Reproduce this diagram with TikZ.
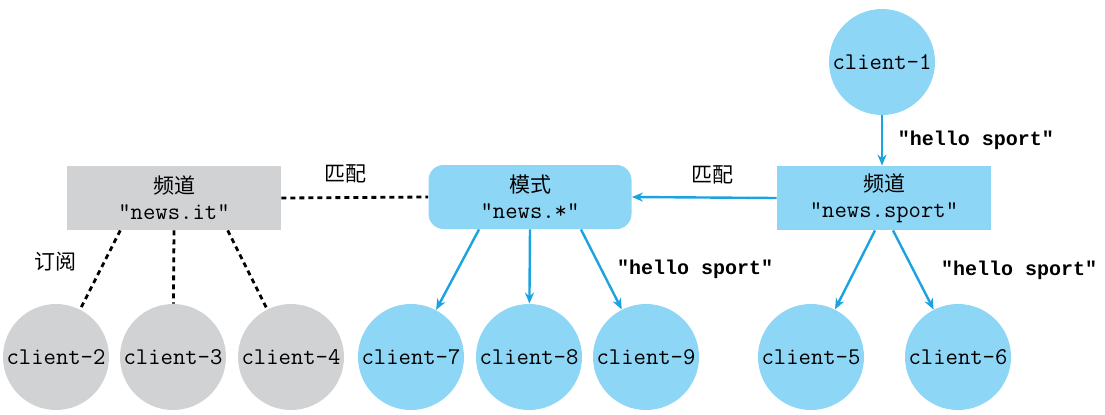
\documentclass[tikz,border=0pt]{standalone}
\usepackage{fontspec}
\newfontfamily\msgmono{Liberation Mono}
\newfontfamily\cjk{Noto Sans CJK SC}
\usetikzlibrary{arrows.meta,positioning,calc}
\definecolor{chanblue}{HTML}{8ED6F6}
\definecolor{msgblue}{HTML}{1BA3E0}
\definecolor{idlegrey}{HTML}{D1D2D4}
\newcommand{\msgfont}{\msgmono\bfseries\fontsize{10}{12}\selectfont}

\begin{document}
\begin{tikzpicture}[x=0.5pt,y=-0.5pt,>={Stealth[length=5.5pt,width=4.5pt]},
  font=\fontsize{10.5}{12}\selectfont,
  client/.style={circle,minimum size=53pt,inner sep=0pt,fill=chanblue,
    font=\ttfamily\fontsize{12}{13}\selectfont},
  idle/.style={fill=idlegrey},
  chan/.style={rectangle,minimum width=107pt,minimum height=32pt,inner sep=0pt,
    align=center,fill=chanblue},
  patbox/.style={chan,rounded corners=7.5pt,minimum width=101.5pt},
  push/.style={->,msgblue,line width=1.2pt},
  sub/.style={line width=1.4pt,dash pattern=on 2.5pt off 2pt},
  msglabel/.style={font=\msgfont,text=black},
  cjklabel/.style={font=\cjk\fontsize{10.5}{12}\selectfont,text=black}]
 \useasboundingbox (0,0) rectangle (1105,414);
 % channels and pattern
 \node[chan,idle] (newsit) at (174,198)
   {{\cjk 频道}\\[1pt]{\ttfamily\fontsize{12}{13}\selectfont "news.it"}};
 \node[patbox] (star) at (530,197)
   {{\cjk 模式}\\[1pt]{\ttfamily\fontsize{12}{13}\selectfont "news.*"}};
 \node[chan] (sport) at (884,198)
   {{\cjk 频道}\\[1pt]{\ttfamily\fontsize{12}{13}\selectfont "news.sport"}};
 % clients
 \node[client] (client1) at (882,62) {client-1};
 \node[client,idle] (client2) at (56,357) {client-2};
 \node[client,idle] (client3) at (173,357) {client-3};
 \node[client,idle] (client4) at (291,357) {client-4};
 \node[client] (client7) at (411,357) {client-7};
 \node[client] (client8) at (529,357) {client-8};
 \node[client] (client9) at (646,357) {client-9};
 \node[client] (client5) at (811,357) {client-5};
 \node[client] (client6) at (958,357) {client-6};
 % publish
 \draw[push] (client1) -- (client1 |- sport.north)
   node[midway,right=4pt,msglabel] {"hello sport"};
 \draw[push] (sport.west) -- (star.east)
   node[pos=.44,above=3pt,cjklabel] {匹配};
 \draw[sub] (newsit.east) -- (star.west)
   node[pos=.44,above=3pt,cjklabel] {匹配};
 % subscribers
 \draw[sub] ($(newsit.south)!.5!(newsit.south west)$) -- (client2)
   node[pos=.4,left=10pt,cjklabel] {订阅};
 \draw[sub] (newsit.south) -- (client3);
 \draw[sub] ($(newsit.south)!.5!(newsit.south east)$) -- (client4);
 \draw[push] ($(star.south)!.5!(star.south west)$) -- (client7);
 \draw[push] (star.south) -- (client8);
 \draw[push] ($(star.south)!.5!(star.south east)$) -- (client9)
   node[midway,right=4pt,msglabel] {"hello sport"};
 \draw[push] ($(sport.south)+(-9,0)$) -- (client5);
 \draw[push] ($(sport.south)+(9,0)$) -- (client6)
   node[midway,right=10pt,msglabel] {"hello sport"};
\end{tikzpicture}
\end{document}
